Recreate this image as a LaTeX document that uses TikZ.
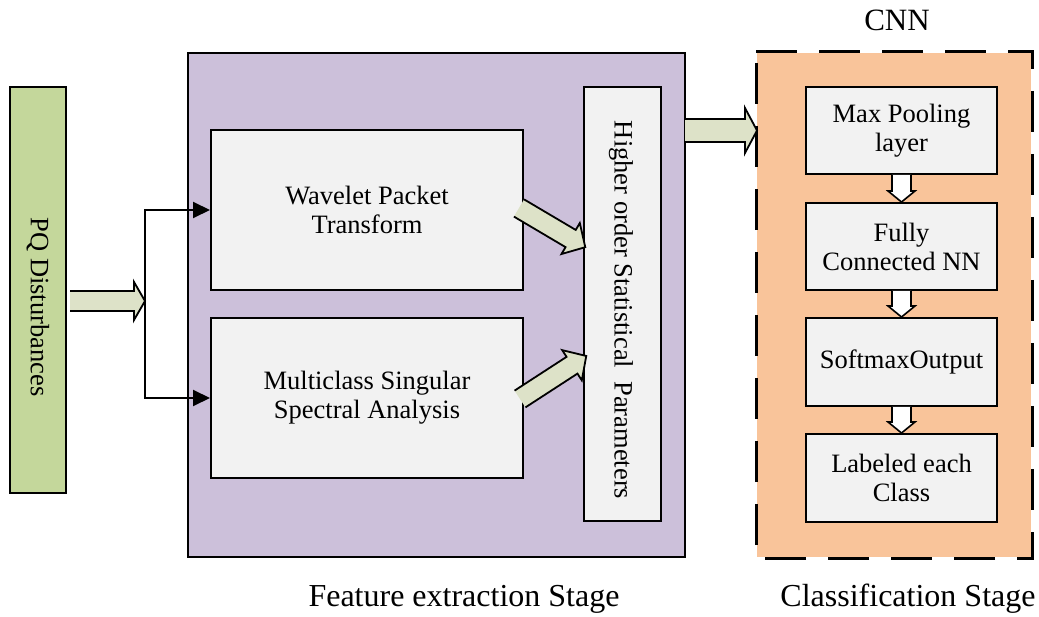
\documentclass[tikz,border=0pt]{standalone}
\usepackage{fontspec}
\setmainfont{Liberation Serif}
\usetikzlibrary{arrows.meta,calc}
\definecolor{pqgreen}{HTML}{C4D79B}
\definecolor{purplebg}{HTML}{CCC0DA}
\definecolor{orangebg}{HTML}{F9C49A}
\definecolor{boxgray}{HTML}{F2F2F2}
\definecolor{arrowfill}{HTML}{DDE2C8}
\tikzset{
  boxtext/.style={font=\fontsize{26.5}{29}\selectfont},
  panel/.style={draw=black, line width=2pt, inner sep=0pt},
  graybox/.style={panel, fill=boxgray, align=center, boxtext},
  linkarrow/.style={line width=2pt, -{Triangle[length=17,width=16]}},
}
\newcommand{\blockarrow}[7]{%
  % #1 tail point, #2 angle, #3 length, #4 shaft half, #5 head half, #6 head length, #7 fill
  \begin{scope}[shift={#1}, rotate=#2]
    \fill[#7] (0,-#4) -- (#3-#6,-#4) -- (#3-#6,-#5) -- (#3,0) -- (#3-#6,#5) -- (#3-#6,#4) -- (0,#4) -- cycle;
    \draw[line width=1.8pt, line join=miter] (0,-#4) -- (#3-#6,-#4) -- (#3-#6,-#5) -- (#3,0) -- (#3-#6,#5) -- (#3-#6,#4) -- (0,#4);
  \end{scope}}
\newcommand{\smalldown}[2]{%
  \draw[line width=1.6pt, fill=white, line join=miter]
    ($(#1.south)+(-9.5,0)$) -- ($(#2.north)+(-9.5,-11)$) -- ($(#2.north)+(-13.5,-11)$) --
    (#2.north) -- ($(#2.north)+(13.5,-11)$) -- ($(#2.north)+(9.5,-11)$) -- ($(#1.south)+(9.5,0)$);}
\begin{document}
\begin{tikzpicture}[x=1pt,y=-1pt]
\useasboundingbox (0,0) rectangle (1039,617);
% panels
\node[panel, fill=pqgreen, minimum width=56, minimum height=406] (pq) at (38,290) {};
\node[rotate=-90, boxtext] (pqt) at (38,307) {PQ Disturbances};
\node[panel, fill=purplebg, minimum width=497, minimum height=504] (fe) at (436.5,305) {};
\node[panel, fill=orangebg, draw=none, minimum width=274, minimum height=504] (cl) at (894,305) {};
\draw[line width=3pt, dash pattern=on 41pt off 22pt] (cl.north west) -- (cl.north east) -- (cl.south east) -- (cl.south west) -- cycle;
% feature boxes
\node[graybox, minimum width=312, minimum height=160] (wpt) at (367,210) {Wavelet Packet\\Transform};
\node[graybox, minimum width=312, minimum height=160] (msa) at (367,398) {Multiclass Singular\\Spectral Analysis};
\node[graybox, minimum width=77, minimum height=434] (hos) at (622.5,304) {};
\node[rotate=-90, boxtext] (host) at (621,310) {Higher order Statistical~~Parameters};
% CNN boxes
\node[graybox, minimum width=191, minimum height=87] (mp) at (901.5,130.5) {Max Pooling\\layer};
\node[graybox, minimum width=191, minimum height=87] (fc) at (901.5,246.5) {Fully\\Connected NN};
\node[graybox, minimum width=191, minimum height=88] (so) at (901.5,362) {SoftmaxOutput};
\node[graybox, minimum width=191, minimum height=88] (lc) at (901.5,478) {Labeled each\\Class};
% labels
\node[font=\fontsize{31}{34}\selectfont] (cnn) at (897,20) {CNN};
\node[font=\fontsize{32}{36}\selectfont] (fes) at (464,599) {Feature extraction Stage};
\node[font=\fontsize{32}{36}\selectfont] (cls) at (908,599) {Classification Stage};
% block arrows
\blockarrow{(70,301)}{0}{75}{10}{19}{11}{arrowfill}
\blockarrow{(685,130.5)}{0}{72}{11.5}{22.5}{12}{arrowfill}
\blockarrow{(519,208)}{-30.6}{77}{10}{18}{17}{arrowfill}
\blockarrow{(520,399)}{33}{79}{10}{18}{17}{arrowfill}
% split connectors
\coordinate (split) at (145,301);
\draw[line width=2pt] (145,210) -- (145,398);
\draw[linkarrow] (split) |- (wpt.west);
\draw[linkarrow] (split) |- (msa.west);
% small down arrows
\smalldown{mp}{fc}
\smalldown{fc}{so}
\smalldown{so}{lc}
\end{tikzpicture}
\end{document}
